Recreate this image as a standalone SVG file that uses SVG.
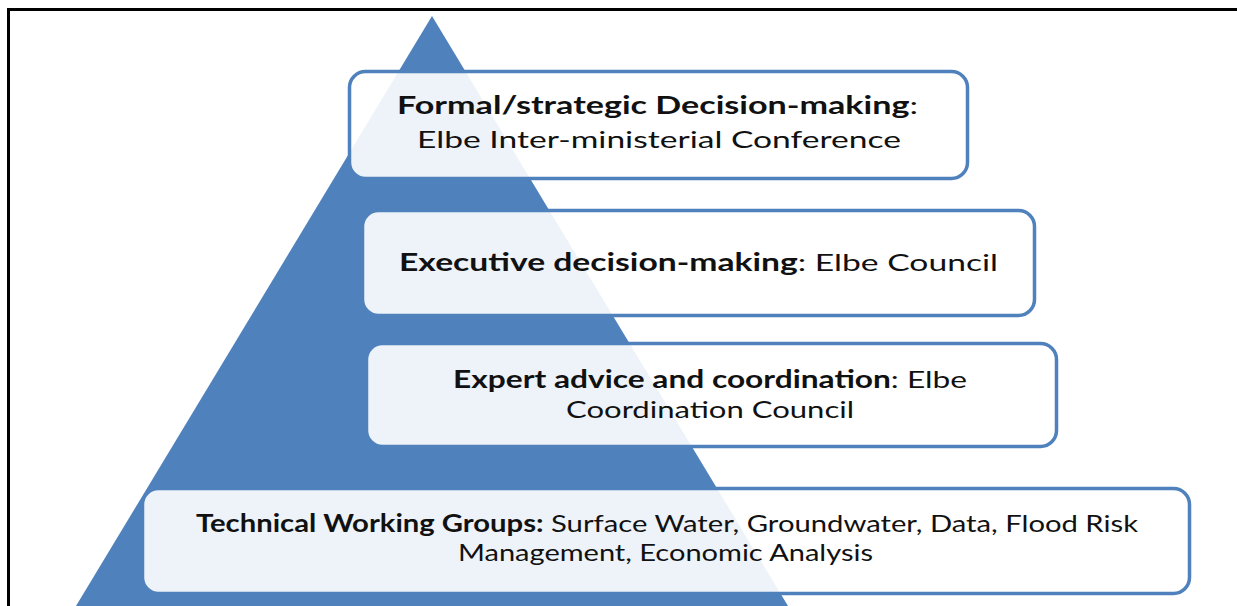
<svg xmlns="http://www.w3.org/2000/svg" width="1237" height="606" viewBox="0 0 1237 606">
  <style>
    .frame { stroke: #000; stroke-width: 3; fill: none; }
    .pyramid { fill: #4f81bd; }
    .tier { fill: #ffffff; fill-opacity: 0.9; stroke: #4f81bd; stroke-width: 3.5; }
    .t { font-family: Lato, "Open Sans", "Liberation Sans", sans-serif; font-size: 24px; fill: #111; }
    .b { font-weight: bold; }
  </style>

  <!-- page frame -->
  <path class="frame" d="M8.5,606 V9.5 H1237"/>

  <!-- pyramid background -->
  <polygon id="pyramid" class="pyramid" points="432,16 788,606 76,606"/>

  <g id="tier-conference">
    <rect class="tier" x="349.5" y="71.5" width="618" height="107" rx="16"/>
    <text class="t" x="397" y="114" textLength="521" lengthAdjust="spacingAndGlyphs"><tspan class="b">Formal/strategic Decision-making</tspan>:</text>
    <text class="t" x="417" y="148" textLength="484" lengthAdjust="spacingAndGlyphs">Elbe Inter-ministerial Conference</text>
  </g>

  <g id="tier-council">
    <rect class="tier" x="362.5" y="210.5" width="672" height="105" rx="16"/>
    <text class="t" x="399" y="271" textLength="599" lengthAdjust="spacingAndGlyphs"><tspan class="b">Executive decision-making</tspan>: Elbe Council</text>
  </g>

  <g id="tier-coordination">
    <rect class="tier" x="366.5" y="343.5" width="690" height="103" rx="16"/>
    <text class="t" x="453" y="388" textLength="514" lengthAdjust="spacingAndGlyphs"><tspan class="b">Expert advice and coordination</tspan>: Elbe</text>
    <text class="t" x="566" y="418" textLength="288" lengthAdjust="spacingAndGlyphs">Coordination Council</text>
  </g>

  <g id="tier-working-groups">
    <rect class="tier" x="142.5" y="488.5" width="1047" height="105" rx="16"/>
    <text class="t" x="196" y="532" textLength="942" lengthAdjust="spacingAndGlyphs"><tspan class="b">Technical Working Groups:</tspan> Surface Water, Groundwater, Data, Flood Risk</text>
    <text class="t" x="458" y="561" textLength="415" lengthAdjust="spacingAndGlyphs">Management, Economic Analysis</text>
  </g>

  <!-- no connectors in this figure -->
  <g id="connectors"/>
</svg>
